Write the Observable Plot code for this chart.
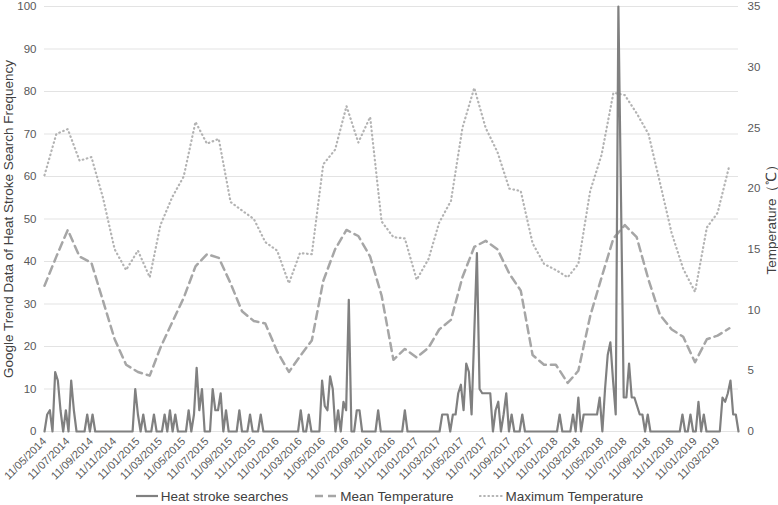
<!DOCTYPE html>
<html><head><meta charset="utf-8">
<script src="https://cdn.jsdelivr.net/npm/d3@7"></script>
<script src="https://cdn.jsdelivr.net/npm/@observablehq/plot@0.6"></script>
<style>
body{margin:0;background:#fff;font-family:Arial,"Liberation Sans",Helvetica,sans-serif;}
#wrap{position:relative;width:778px;height:505px;}
#legend{position:absolute;left:0;top:481px;width:778px;display:flex;justify-content:center;align-items:center;gap:26px;height:30px;font-size:13.5px;color:#404040;}
.item{display:flex;align-items:center;gap:2px;white-space:nowrap}
</style></head><body>
<div id="wrap"><div id="chart"></div><div id="legend"></div></div>
<script>
// ---- data ----
const seriesNames = ["Heat stroke searches", "Mean Temperature", "Maximum Temperature"];
const searchStart = "2014-05-11";   // weekly Google Trends values
const searches = [
  0,4,5,0,14,12,5,0,5,0,
  12,5,0,0,0,0,4,0,4,0,
  0,0,0,0,0,0,0,0,0,0,
  0,0,0,0,10,4,0,4,0,0,
  0,4,0,0,0,4,0,5,0,4,
  0,0,0,0,5,0,4,15,5,10,
  0,0,0,10,5,5,9,0,5,0,
  0,0,0,5,0,0,0,4,0,0,
  0,4,0,0,0,0,0,0,0,0,
  0,0,0,0,0,0,5,0,0,4,
  0,0,0,0,12,6,5,13,10,0,
  5,0,7,5,31,0,0,5,5,0,
  0,0,0,0,0,5,0,0,0,0,
  0,0,0,0,0,5,0,0,0,0,
  0,0,0,0,0,0,0,0,0,4,
  4,4,0,4,4,9,11,5,16,14,
  4,23,42,10,9,9,9,9,0,5,
  7,0,4,9,0,4,0,0,0,4,
  0,0,0,0,0,0,0,0,0,0,
  0,0,0,4,0,0,0,0,4,0,
  8,0,4,4,4,4,4,4,8,0,
  10,18,21,12,4,100,54,8,8,16,
  8,8,6,4,4,0,4,0,0,0,
  0,0,0,0,0,0,0,0,0,4,
  0,0,4,0,0,7,0,4,0,0,
  0,0,0,0,8,7,9,12,4,4,
  0
];
const tempStart = "2014-05-11";   // monthly temperatures (°C)
const meanTemp = [
  12.0,14.4,16.6,14.4,13.9,10.8,7.6,5.5,4.9,4.6,
  6.9,9.0,11.0,13.6,14.6,14.3,12.2,9.9,9.1,8.9,
  6.6,4.9,6.2,7.5,12.4,15.0,16.6,16.1,14.4,11.2,
  5.9,6.8,6.1,6.9,8.4,9.2,12.7,15.2,15.7,15.0,
  13.0,11.6,6.3,5.5,5.5,4.0,5.0,9.5,12.7,15.9,
  17.0,16.0,12.5,9.6,8.4,7.8,5.7,7.6,7.9,8.5
];
const maxTemp = [
  21.1,24.5,24.9,22.3,22.6,19.3,15.0,13.3,14.9,12.7,
  17.0,19.3,21.0,25.5,23.7,24.1,18.9,18.2,17.5,15.6,
  14.9,12.2,14.7,14.6,22.0,23.2,26.8,23.8,25.9,17.3,
  16.0,15.9,12.5,14.2,17.2,19.0,25.0,28.3,25.0,23.0,
  20.0,19.8,15.5,13.8,13.3,12.7,13.8,19.8,22.8,27.9,
  27.7,26.2,24.5,20.5,16.3,13.4,11.5,16.8,18.0,21.9
];
const searchTicks = [0,10,20,30,40,50,60,70,80,90,100];
const tempTicks = [0,5,10,15,20,25,30,35];
const dateTicks = [
  "2014-05-11","2014-07-11","2014-09-11","2014-11-11",
  "2015-01-11","2015-03-11","2015-05-11","2015-07-11","2015-09-11","2015-11-11",
  "2016-01-11","2016-03-11","2016-05-11","2016-07-11","2016-09-11","2016-11-11",
  "2017-01-11","2017-03-11","2017-05-11","2017-07-11","2017-09-11","2017-11-11",
  "2018-01-11","2018-03-11","2018-05-11","2018-07-11","2018-09-11","2018-11-11",
  "2019-01-11","2019-03-11"
];
const leftTitle = "Google Trend Data of Heat Stroke Search Frequency";
const rightTitle = "Temperature（℃）";

// ---- build ----
const parse = d3.utcParse("%Y-%m-%d");
const start = parse(searchStart);
const weekly = searches.map((v, i) => ({date: d3.utcDay.offset(start, 7 * i), v}));
const t0 = parse(tempStart);
const monthly = meanTemp.map((m, i) => ({date: d3.utcMonth.offset(t0, i), mean: m, max: maxTemp[i]}));
const k = 100 / 35; // temperature → left scale

const colors = ["#808080", "#a6a6a6", "#b3b3b3"];
const widths = [2.2, 2.5, 2.2];
const dashes = [null, "8,5", "0.6,3.6"];
const caps = ["butt", "butt", "round"];

const chart = Plot.plot({
  width: 778, height: 505,
  marginTop: 6, marginBottom: 74, marginLeft: 44, marginRight: 40,
  style: {fontFamily: "Arial, 'Liberation Sans', Helvetica, sans-serif", background: "white", color: "#595959"},
  x: {type: "utc", domain: [start, weekly[weekly.length - 1].date]},
  y: {domain: [0, 100]},
  marks: [
    Plot.gridY(searchTicks, {stroke: "#e3e3e3", strokeOpacity: 1, strokeWidth: 1}),
    Plot.axisY(searchTicks, {anchor: "left", tickSize: 0, tickPadding: 8, fontSize: 11.5, fill: "#595959", label: null}),
    Plot.axisY(tempTicks.map(t => t * k), {anchor: "right", tickSize: 0, tickPadding: 9, fontSize: 11.5, fill: "#595959",
      tickFormat: d => String(Math.round(d / k)), label: null}),
    Plot.axisX(dateTicks.map(parse), {tickRotate: -45, tickSize: 0, tickPadding: 8, fontSize: 11, fill: "#595959",
      tickFormat: d3.utcFormat("%d/%m/%Y"), label: null}),
    Plot.line(monthly, {x: "date", y: d => d.max * k, stroke: colors[2], strokeWidth: widths[2], strokeDasharray: dashes[2], strokeLinecap: "round"}),
    Plot.line(monthly, {x: "date", y: d => d.mean * k, stroke: colors[1], strokeWidth: widths[1], strokeDasharray: dashes[1]}),
    Plot.line(weekly, {x: "date", y: "v", stroke: colors[0], strokeWidth: widths[0]}),
    Plot.text([leftTitle], {frameAnchor: "left", textAnchor: "middle", rotate: -90, dx: -36, dy: 0, fontSize: 13.5, fill: "#404040"}),
    Plot.text([rightTitle], {frameAnchor: "right", textAnchor: "middle", rotate: -90, dx: 33, dy: -3, fontSize: 13.5, fill: "#404040"})
  ]
});
document.getElementById("chart").appendChild(chart);

const legend = document.getElementById("legend");
seriesNames.forEach((name, i) => {
  const item = document.createElement("span");
  item.className = "item";
  item.innerHTML = `<svg width="24" height="6"><line x1="1" y1="3" x2="23" y2="3" stroke="${colors[i]}" stroke-width="${widths[i]}" stroke-linecap="${caps[i]}" ${dashes[i] ? `stroke-dasharray="${dashes[i]}"` : ""}/></svg><span>${name}</span>`;
  legend.appendChild(item);
});
</script>
</body></html>
